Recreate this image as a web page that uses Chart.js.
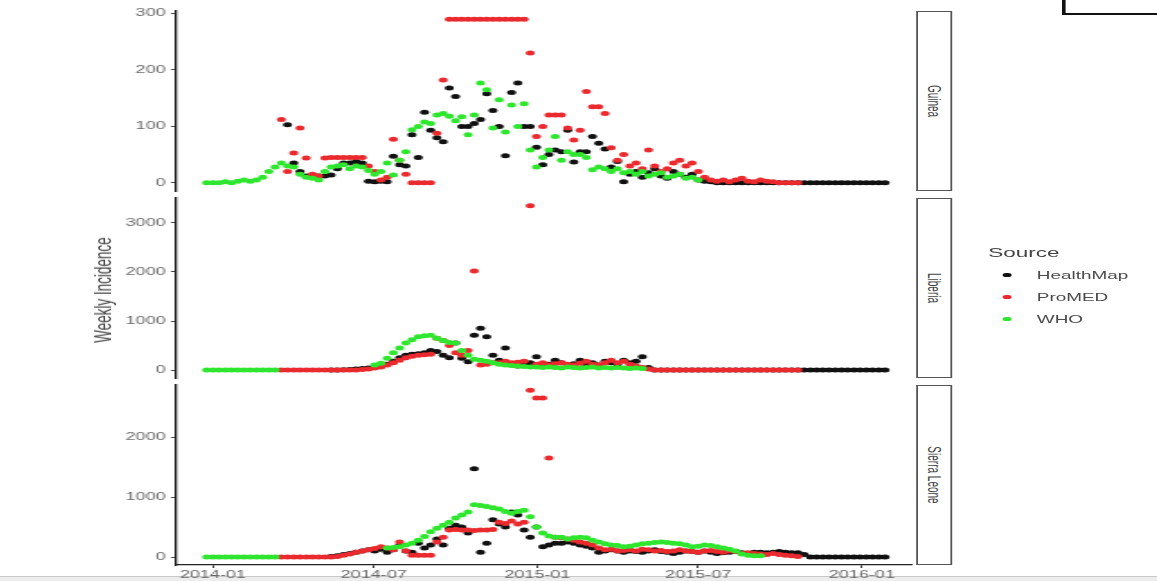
<!DOCTYPE html>
<html>
<head>
<meta charset="utf-8">
<script src="https://cdn.jsdelivr.net/npm/chart.js@4.4.1/dist/chart.umd.min.js"></script>
<style>
  html, body { margin: 0; padding: 0; background: #fff; }
  body { width: 1157px; height: 581px; overflow: hidden; position: relative; font-family: "Liberation Sans", Arial, sans-serif; }
  #band { position: absolute; left: 0; top: 576px; width: 1157px; height: 5px; background: #ededed; border-top: 1px solid #c8c8c8; }
  /* the source picture is stretched sideways, so the whole page is drawn narrow and widened */
  #stage { position: absolute; left: 0; top: 0; width: 643px; height: 581px; transform: scaleX(1.8); transform-origin: 0 0; }
  #stage canvas { position: absolute; left: 0; }
  .strip { position: absolute; left: 509px; width: 20px; box-sizing: border-box; border: 1px solid #555; background: #fff; }
  .strip span { position: absolute; left: 50%; top: 50%; transform: translate(-50%, -50%) rotate(90deg); white-space: nowrap; font-size: 10px; color: #444; }
  #ylab { position: absolute; left: 57px; top: 290px; transform: translate(-50%, -50%) rotate(-90deg); white-space: nowrap; font-size: 13.5px; color: #444; }
  #legend-title { position: absolute; left: 549px; top: 246px; font-size: 12.5px; color: #444; }
  .key { position: absolute; left: 557px; width: 4.6px; height: 4.6px; border-radius: 50%; }
  .keylab { position: absolute; left: 576px; font-size: 10.5px; color: #4a4a4a; }
  #corner { position: absolute; left: 590px; top: -4px; width: 100px; height: 15px; border: 2px solid #111; }
</style>
</head>
<body>
<div id="band"></div>
<div id="stage">
  <canvas id="guinea" width="509" height="206" style="top:0px"></canvas>
  <canvas id="liberia" width="509" height="212" style="top:180px"></canvas>
  <canvas id="sierra" width="509" height="216" style="top:365px"></canvas>
  <div class="strip" style="top:11px;height:180px"><span>Guinea</span></div>
  <div class="strip" style="top:198px;height:180px"><span>Liberia</span></div>
  <div class="strip" style="top:385px;height:180px"><span>Sierra Leone</span></div>
  <div id="ylab">Weekly Incidence</div>
  <div id="legend"></div>
  <div id="corner"></div>
</div>
<script>
// weekly reports, first week and axis labels
const firstWeek = '2013-12-25'
const xTickLabels = ['2014-01', '2014-07', '2015-01', '2015-07', '2016-01']
const sources = ['HealthMap', 'ProMED', 'WHO']
const sourceColors = ['#111111', '#ea2a2e', '#2ee62e']

const guineaTicks = [0, 100, 200, 300]
const liberiaTicks = [0, 1000, 2000, 3000]
const sierraTicks = [0, 1000, 2000]

// Guinea
const guineaHealthMap = [
  null, null, null, null, null, null, null, null, null, null,
  null, null, null, 103, 35, 20, 12, 10, 12, 12,
  14, 25, 35, 35, 38, 35, 3, 2, 3, 2,
  47, 32, 30, 85, 45, 125, 93, 80, 73, 168,
  153, 100, 100, 105, 112, 158, 128, 100, 48, 160,
  177, 100, 100, 63, 32, 50, 58, 55, 93, 37,
  55, 55, 82, 70, 60, 28, 38, 2, 15, 20,
  10, 18, 25, 12, 8, 20, 15, 10, 15, 5,
  3, 2, 0, 0, 0, 0, 0, 0, 0, 0,
  0, 0, 0, 0, 0, 0, 0, 0, 0, 0,
  0, 0, 0, 0, 0, 0, 0, 0, 0, 0
]
const guineaProMED = [
  null, null, null, null, null, null, null, null, null, null,
  null, null, 112, 20, 53, 97, 44, 15, 12, 44,
  45, 45, 45, 45, 45, 45, 30, 20, 5, 10,
  77, 40, 15, 0, 0, 0, 0, 88, 182, 290,
  290, 290, 290, 290, 290, 290, 290, 290, 290, 290,
  290, 290, 230, 82, 100, 120, 120, 120, 97, 76,
  93, 162, 135, 135, 123, 62, 40, 50, 30, 35,
  25, 58, 30, 20, 25, 35, 40, 30, 35, 20,
  10, 5, 3, 5, 2, 5, 8, 3, 2, 5,
  3, 2, 0, 0, 0, 0
]
const guineaWHO = [
  0, 0, 0, 2, 0, 3, 5, 3, 5, 10,
  20, 28, 35, 30, 28, 15, 10, 8, 5, 20,
  28, 30, 32, 25, 30, 28, 22, 15, 20, 35,
  14, 40, 55, 94, 100, 108, 105, 120, 123, 118,
  110, 117, 85, 120, 177, 165, 97, 147, 90, 138,
  100, 140, 58, 28, 45, 58, 82, 40, 55, 50,
  50, 45, 23, 28, 25, 20, 25, 18, 20, 15,
  20, 12, 15, 18, 10, 12, 15, 8, 10, 5
]

// Liberia
const liberiaHealthMap = [
  null, null, null, null, null, null, null, null, null, null,
  null, null, null, null, null, null, null, null, null, null,
  0, 0, 5, 10, 20, 30, 40, 60, 80, 120,
  180, 250, 300, 320, 330, 350, 400, 380, 300, 250,
  550, 240, 170, 710, 850, 680, 300, 200, 450, 100,
  80, 120, 150, 270, 100, 120, 200, 150, 100, 130,
  200, 120, 150, 100, 180, 150, 120, 200, 150, 180,
  270, 50, 0, 0, 0, 0, 0, 0, 0, 0,
  0, 0, 0, 0, 0, 0, 0, 0, 0, 0,
  0, 0, 0, 0, 0, 0, 0, 0, 0, 0,
  0, 0, 0, 0, 0, 0, 0, 0, 0, 0
]
const liberiaProMED = [
  null, null, null, null, null, null, null, null, null, null,
  null, null, 0, 0, 0, 0, 0, 0, 0, 0,
  0, 0, 0, 0, 0, 10, 20, 40, 60, 100,
  150, 200, 250, 280, 300, 310, 320, 650, 600, 500,
  350, 300, 400, 2020, 100, 120, 150, 150, 180, 150,
  160, 180, 3350, 120, 150, 100, 130, 150, 120, 100,
  140, 180, 120, 100, 150, 200, 150, 180, 120, 80,
  50, 20, 0, 0, 0, 0, 0, 0, 0, 0,
  0, 0, 0, 0, 0, 0, 0, 0, 0, 0,
  0, 0, 0, 0, 0, 0
]
const liberiaWHO = [
  0, 0, 0, 0, 0, 0, 0, 0, 0, 0,
  0, 0, null, null, null, null, null, null, null, null,
  null, null, null, null, null, null, null, 100, 140, 240,
  350, 450, 550, 620, 680, 700, 710, 650, 600, 560,
  550, 400, 300, 220, 200, 180, 150, 120, 100, 90,
  80, 70, 60, 60, 50, 60, 50, 40, 60, 50,
  40, 50, 60, 40, 50, 40, 50, 40, 30, 40,
  30
]

// Sierra Leone
const sierraHealthMap = [
  null, null, null, null, null, null, null, null, null, null,
  null, null, null, null, null, null, null, null, null, null,
  10, 20, 40, 60, 80, 100, 120, 100, 130, 80,
  120, 200, 100, 80, 230, 150, 200, 300, 200, 480,
  530, 500, 400, 1470, 80, 230, 620, 550, 500, 750,
  700, 450, 330, 500, 170, 200, 230, 230, 250, 230,
  200, 180, 150, 80, 100, 120, 100, 80, 100, 90,
  80, 100, 120, 90, 80, 60, 80, 100, 90, 80,
  100, 80, 60, 70, 80, 90, 70, 60, 80, 80,
  70, 80, 90, 80, 70, 70, 40, 0, 0, 0,
  0, 0, 0, 0, 0, 0, 0, 0, 0, 0
]
const sierraProMED = [
  null, null, null, null, null, null, null, null, null, null,
  null, null, 0, 0, 0, 0, 0, 0, 0, 0,
  0, 10, 30, 50, 80, 100, 120, 140, 170, 150,
  120, 250, 100, 30, 30, 30, 30, 250, 330, 450,
  460, 450, 450, 440, 450, 450, 460, 580, 560, 600,
  550, 580, 2780, 2650, 2650, 1650, 330, 320, 300, 280,
  250, 230, 200, 150, 120, 130, 100, 110, 120, 100,
  130, 120, 100, 110, 90, 100, 120, 100, 90, 80,
  100, 110, 90, 80, 100, 90, 60, 70, 60, 50,
  40, 60, 40, 30, 20, 10
]
const sierraWHO = [
  0, 0, 0, 0, 0, 0, 0, 0, 0, 0,
  0, 0, null, null, null, null, null, null, null, null,
  null, null, null, null, null, null, null, null, null, 150,
  160, 170, 200, 230, 280, 340, 420, 480, 530, 580,
  650, 700, 750, 870, 860, 840, 820, 800, 760, 730,
  760, 780, 670, 500, 400, 350, 330, 330, 300, 320,
  330, 320, 280, 250, 220, 200, 190, 170, 180, 200,
  220, 230, 240, 250, 240, 230, 220, 200, 170, 180,
  200, 190, 170, 150, 130, 100, 50, 30, 20, 20
]

const DAY = 86400000
const t0 = Date.parse(firstWeek + 'T00:00:00Z')
const monthStamp = label => Date.parse(label + '-01T00:00:00Z')

Chart.defaults.font.family = '"Liberation Sans", Arial, sans-serif'
Chart.defaults.animation = false

const toPoints = values => {
  const pts = []
  values.forEach((v, i) => {
    if (v !== null && v !== undefined) pts.push({ x: t0 + i * 7 * DAY, y: v })
  })
  return pts
}

const makeDatasets = (seriesList) => seriesList.map((values, k) => ({
  label: sources[k],
  data: toPoints(values),
  backgroundColor: sourceColors[k],
  pointRadius: 2.5,
  pointBorderWidth: 0,
  pointHoverRadius: 2.5,
  order: 3 - k
}))

const drawPanel = (id, seriesList, ticks, yMin, yMax, padTop, padBottom, showX) => {
  new Chart(document.getElementById(id), {
    type: 'scatter',
    data: { datasets: makeDatasets(seriesList) },
    options: {
      responsive: false,
      devicePixelRatio: 1,
      events: [],
      layout: { padding: { top: padTop, bottom: padBottom, left: 0, right: 2 } },
      plugins: {
        legend: { display: false },
        tooltip: { enabled: false }
      },
      scales: {
        x: {
          type: 'linear',
          display: showX,
          min: Date.parse('2013-11-21T00:00:00Z'),
          max: Date.parse('2016-02-26T00:00:00Z'),
          afterBuildTicks: s => { s.ticks = xTickLabels.map(l => ({ value: monthStamp(l) })) },
          afterFit: s => { s.height = showX ? 16 : 0 },
          ticks: {
            autoSkip: false,
            maxRotation: 0,
            padding: 1,
            color: '#666',
            font: { size: 10 },
            callback: v => {
              const d = new Date(v)
              return d.getUTCFullYear() + '-' + String(d.getUTCMonth() + 1).padStart(2, '0')
            }
          },
          grid: { drawOnChartArea: false, drawTicks: true, tickLength: 3, color: '#444' },
          border: { display: true, color: '#222', width: 1.3 }
        },
        y: {
          type: 'linear',
          min: yMin,
          max: yMax,
          afterBuildTicks: s => { s.ticks = ticks.map(v => ({ value: v })) },
          afterFit: s => { s.width = 98 },
          ticks: {
            padding: 3,
            color: '#6a6a6a',
            font: { size: 10 },
            callback: v => String(v)
          },
          grid: { drawOnChartArea: false, drawTicks: true, tickLength: 3, color: '#444' },
          border: { display: true, color: '#222', width: 1.3 }
        }
      }
    }
  })
}

drawPanel('guinea', [guineaHealthMap, guineaProMED, guineaWHO], guineaTicks, -14.5, 304.5, 11, 15, false)
drawPanel('liberia', [liberiaHealthMap, liberiaProMED, liberiaWHO], liberiaTicks, -163, 3510, 18, 14, false)
drawPanel('sierra', [sierraHealthMap, sierraProMED, sierraWHO], sierraTicks, -133, 2867, 20, 0, true)

// legend
const legend = document.getElementById('legend')
let html = '<div id="legend-title">Source</div>'
sources.forEach((s, k) => {
  const y = 275 + k * 22
  html += '<div class="key" style="top:' + (y - 2.3) + 'px;background:' + sourceColors[k] + '"></div>'
  html += '<div class="keylab" style="top:' + (y - 6.5) + 'px">' + s + '</div>'
})
legend.innerHTML = html
</script>
</body>
</html>
